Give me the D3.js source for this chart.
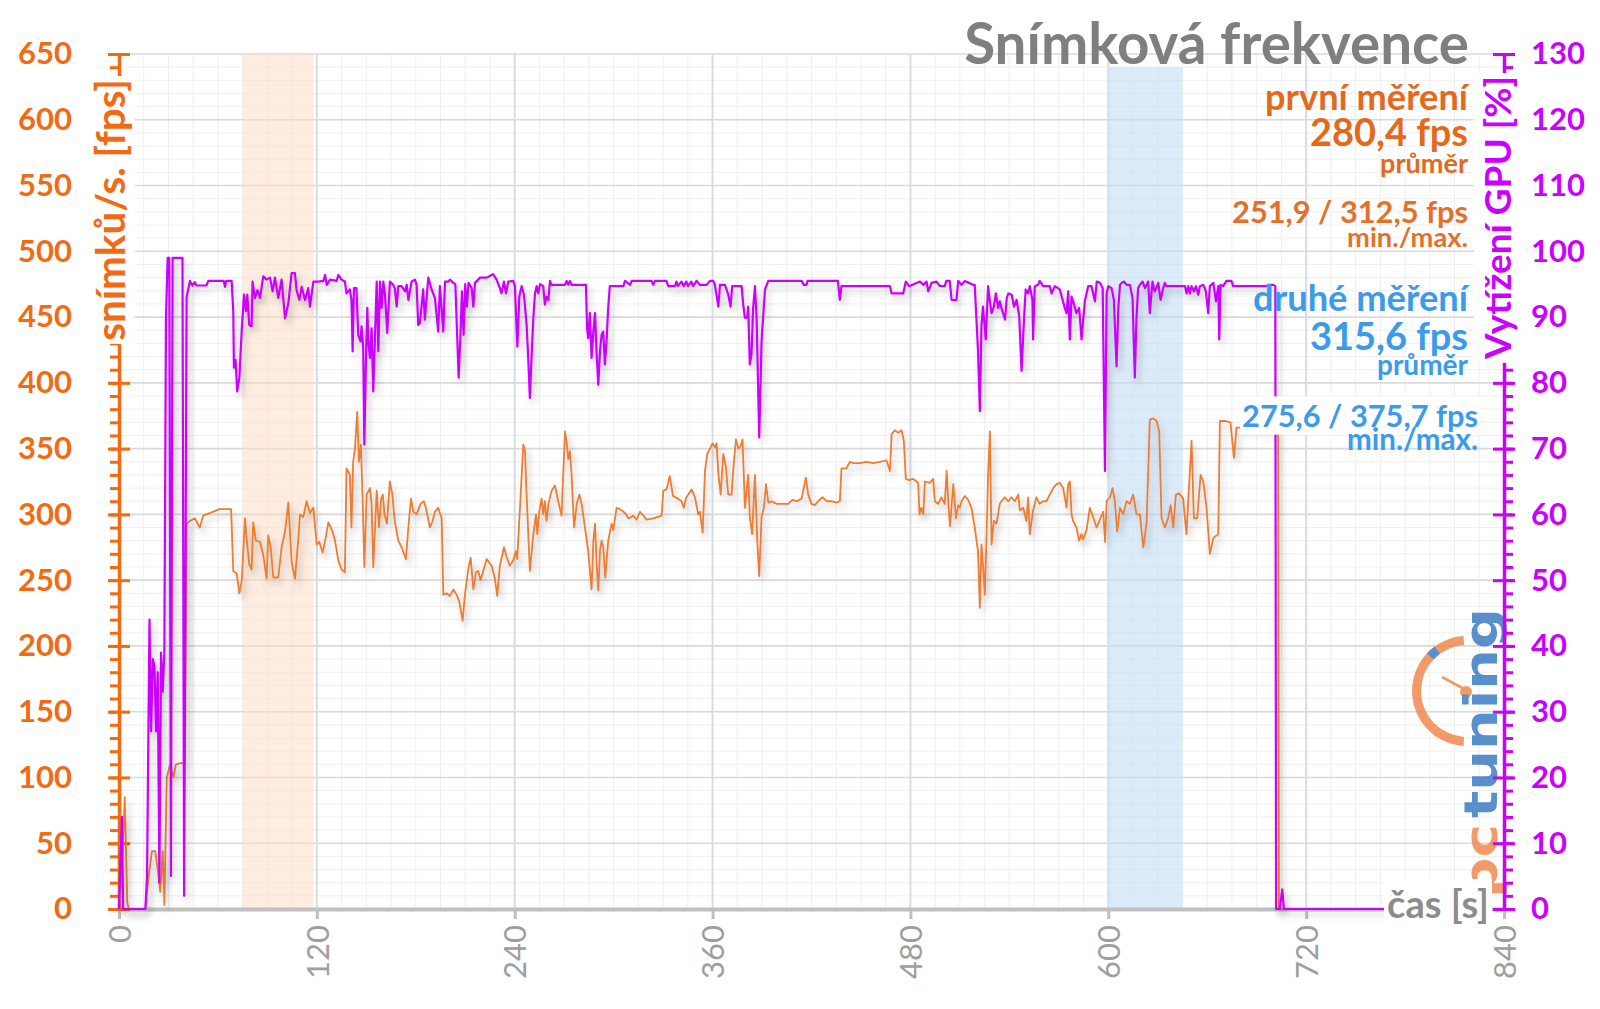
<!DOCTYPE html>
<html><head><meta charset="utf-8">
<script src="https://cdn.jsdelivr.net/npm/d3@7"></script>
<style>html,body{margin:0;padding:0;background:#fff;} svg{display:block;font-family:Lato,'Open Sans',sans-serif;}</style>
</head><body><svg id="c" width="1600" height="1009"></svg>
<script>
// ---------------- DATA ----------------
const xTicks = [0, 120, 240, 360, 480, 600, 720, 840];
const fpsTicks = [0, 50, 100, 150, 200, 250, 300, 350, 400, 450, 500, 550, 600, 650];
const gpuTicks = [0, 10, 20, 30, 40, 50, 60, 70, 80, 90, 100, 110, 120, 130];
const bandFirst = [75, 118];   // seconds, first measurement window
const bandSecond = [600, 645]; // seconds, second measurement window
const bandSecondTop = 640;

const titleText = "Snímková frekvence";
const firstLabels = ["první měření", "280,4 fps", "průměr", "251,9 / 312,5 fps", "min./max."];
const secondLabels = ["druhé měření", "315,6 fps", "průměr", "275,6 / 375,7 fps", "min./max."];

// frame rate [s, fps]
const fpsSeries = [[0,0],[1.5,20],[3.5,85],[5,5],[6,0],[16,0],[18,25],[20,44],[22,44],[23.5,30],[25,13],[26.5,44],[27.5,3],[29,100],[31,110],[33,100],[34.5,110],[38,111],[40,110],[41,293],[43,295],[46,297],[49,290],[51,299],[55,301],[61,304],[68,304],[69.3,257],[71.4,255],[73,240],[74.5,250],[76.4,297],[77.4,282],[79,262],[80.4,258],[81.4,294],[83,280],[85.5,279],[87.5,269],[89.5,251],[90.5,284],[92,275],[93.6,252],[96.6,252],[98.6,275],[100.7,287],[102.7,309],[104.7,264],[106.7,251],[108.8,282],[109.8,300],[111.8,298],[113.8,310],[115.8,301],[117.9,305],[119.9,277],[121.5,279],[123.5,271],[125,280],[127,294],[129.5,287],[131,280],[133,265],[135,258],[137,256],[138,335],[140,330],[141,290],[142,340],[143.1,350],[144.5,378],[145.5,340],[146.7,353],[147.8,310],[148.8,260],[150.2,315],[152.2,320],[153.2,308],[154.2,260],[155.3,290],[156.3,318],[157.7,290],[159,312],[160,315],[161,300],[162.5,293],[164.3,325],[165.8,315],[167.2,295],[169.4,280],[171.4,275],[174,266],[175.5,290],[177.1,312],[178.5,302],[180.5,300],[182.9,308],[184.9,310],[186.1,305],[188.6,290],[190.2,295],[191.6,302],[193.6,305],[195.7,297],[196.7,239],[198.7,240],[200.7,238],[202.8,243],[204.7,239],[206.3,234],[208.4,219],[209.8,239],[211.9,259],[213.3,267],[214.9,243],[216.5,256],[217.9,257],[219.3,250],[220.9,257],[223,266],[226,261],[228,251],[229.4,238],[231,261],[233.5,275],[235,268],[237,261],[239.1,265],[240.7,272],[241.5,266],[243.2,305],[245.2,353],[246.2,349],[247.2,315],[249.2,257],[251.3,285],[252.9,300],[253.7,285],[254.9,302],[256.3,312],[257.3,300],[258.3,310],[259.3,295],[260.4,308],[262.4,318],[264.4,322],[266.4,310],[268.4,299],[270.5,363],[271.5,355],[272.5,342],[273.5,348],[274.5,330],[276,290],[277.6,308],[279.2,315],[280.6,308],[282.6,290],[284.6,272],[286.6,243],[287.7,280],[288.7,293],[289.7,262],[290.7,242],[291.7,272],[292.7,280],[293.7,275],[294.9,252],[296.7,280],[298.8,293],[299.8,288],[301.8,305],[303.8,304],[306.9,301],[308.9,297],[311.9,299],[313.9,296],[316,302],[318,299],[320,296],[324,297],[329.1,299],[330.1,318],[332.1,319],[334,329],[336,314],[339,312],[341.1,310],[342.5,305],[344.1,313],[347.3,319],[349.3,313],[351.3,300],[352.3,302],[354,286],[355.4,333],[356.8,346],[358.4,350],[360,354],[361.4,351],[362.4,354],[363.5,331],[364.9,315],[366.5,346],[368.1,336],[369.5,315],[371.5,315],[372.6,335],[374.2,357],[375.6,350],[377,352],[378.2,357],[379.6,305],[381.6,330],[382.6,298],[384,285],[385.7,330],[387.1,280],[388.3,253],[389.7,298],[391.1,305],[392.4,323],[393.8,309],[395.8,310],[398.9,308],[402.9,308],[405.9,308],[408.5,311],[411,310],[414,312],[416.6,328],[418,315],[420,308],[422,307],[424,310],[426.7,313],[429.1,310],[432.1,310],[435.2,309],[437.2,310],[438.2,335],[441.2,335],[443.3,340],[445.3,339],[449.3,339],[453.4,340],[457.4,339],[461.5,340],[465.5,341],[467.6,333],[468.6,361],[470.6,364],[472.6,362],[474.6,364],[476,356],[477.2,327],[479.2,326],[481.6,327],[484.7,324],[485.5,300],[486.5,305],[487.8,300],[488.8,325],[491.8,324],[493.8,327],[494.8,310],[496.8,308],[498.8,313],[500.8,308],[502,333],[503,308],[504,291],[506,323],[507.6,297],[509,307],[510,305],[511,310],[513,314],[515,311],[517,305],[519,290],[521,272],[522.1,229],[523.1,277],[524.1,260],[525.1,239],[526.1,280],[527.1,330],[528.2,363],[529.2,277],[530.6,295],[532.2,293],[534.2,308],[535.2,310],[537.2,313],[539.3,310],[541.3,313],[543.3,310],[545.4,315],[546.4,303],[548.4,305],[550.3,295],[551.4,313],[552.4,285],[554.4,303],[556.4,313],[558.4,308],[560.5,310],[562.5,310],[564.5,315],[566.6,320],[568.6,323],[570.6,324],[572.6,320],[574.7,305],[575.7,323],[576.7,325],[577.7,300],[578.7,295],[580.7,290],[582.3,280],[583.7,285],[584.7,281],[586.8,288],[588.8,305],[590.8,298],[592.9,290],[594.9,296],[596.9,302],[598.1,279],[599,310],[601,313],[602.6,320],[604,310],[605.4,287],[607.1,305],[609.1,300],[611.1,310],[613.1,308],[615.1,315],[617.1,300],[619.2,300],[621.2,275],[623.2,293],[625.2,372],[627.3,373],[629.3,371],[630.9,363],[632.3,297],[634.3,290],[636.3,297],[637.8,307],[639.4,290],[641,315],[643,316],[645.4,312],[647.4,285],[648.4,308],[650.5,356],[651.9,297],[653.9,297],[656,330],[657.6,325],[659.6,305],[661.6,270],[663.7,282],[666.7,285],[667.7,371],[670.7,371],[674.1,370],[676.2,343],[677.8,366],[680,366],[703,364],[703.5,0],[706,0]];

// GPU load [s, %]
const gpuSeries = [[0,0],[1,8],[1.8,14],[2.5,0],[16,0],[17,5],[18.5,44],[19.5,27],[20.5,38],[21.5,37],[22.5,27],[23.5,36],[24.5,4],[25.5,39],[26.5,33],[27.5,39],[28.5,90],[29.5,99],[30.5,99],[31.5,5],[32.5,99],[38.5,99],[39.5,2],[41,93],[43,95.5],[44.5,94.8],[46,95.3],[47,94.8],[53,94.8],[54.2,95.5],[63.5,95.5],[64.3,94.6],[65,95.5],[68.3,95.5],[69.3,90.9],[69.7,82.3],[70.7,83.5],[71.7,78.7],[73,80.8],[74.4,87.8],[75.8,93.4],[77,90.9],[77.8,93.4],[79,88.8],[80.4,88.6],[81,95.4],[82.5,92.9],[84,94.1],[85.5,92.9],[87.5,96.2],[89.5,95.7],[91.6,96],[93.2,93.9],[94.6,96],[96.6,92.9],[98.6,95.7],[100.7,89.8],[102.7,92.1],[104.7,96.7],[106.7,96.7],[107.7,94.1],[109.4,92.6],[110.8,94.6],[112.8,92.6],[114.8,94.4],[115.8,91.6],[117.9,95.4],[120.9,95.4],[124,95.5],[125,96.4],[126,94.9],[128,95.7],[132,95.5],[133,96.4],[135,95.7],[137,95.4],[138,93.6],[140,94.2],[141,92.6],[141.7,84.8],[142.5,94.4],[144,94.4],[145.1,87.3],[146.5,86.3],[147.1,88.6],[148.1,85.3],[148.8,70.6],[149.8,83.8],[150.6,91.4],[151.2,86.3],[152.2,83.8],[153.2,88.3],[154.2,78.7],[155.3,87.3],[156.3,95.4],[157.3,84.8],[158.3,95.4],[159.3,91.4],[160.3,95.4],[161.3,93.4],[162.7,87.6],[164.3,95.4],[166.3,94.9],[167.3,94.4],[168.4,91.6],[169.4,94.7],[171.4,94.7],[173.5,93.9],[174.5,94.9],[175.5,92.6],[177.5,95.4],[179.5,95.7],[180.5,94.9],[181.5,88.8],[182.5,89.1],[184.5,94.2],[185.5,89.6],[187.6,96],[189.6,94.2],[191.6,92.9],[193.6,87.8],[194.6,94.7],[196.7,87.8],[197.7,95.4],[199.7,95.4],[200.7,95.7],[202.7,95.2],[204,95],[206,80.8],[207,86.6],[208,93.9],[209,87.3],[210,95],[211,91.6],[212,95.2],[213.9,94.4],[214.9,91.6],[215.9,95.2],[219,96],[223,96],[225.9,96.4],[227,96.5],[229,95.7],[231,94.4],[232,93.6],[233.5,95.4],[234.7,93.6],[236.1,95.4],[239.1,95.5],[240.1,94.7],[241.6,85.5],[242.8,93.1],[244.2,94.7],[245.6,93.4],[247.2,88.9],[248.2,83.8],[249.2,77.7],[250.2,83.8],[251.3,89.9],[252.3,93.6],[253.3,94.7],[254.3,93.6],[255.3,95],[257.3,94.7],[258.3,91.9],[259.3,93.1],[260.4,92.6],[261.4,95.5],[262.4,94.9],[270.5,94.9],[271.5,95.5],[272.5,94.9],[273.5,95.5],[274.5,94.9],[283.2,94.9],[283.9,88.3],[284.6,86.8],[285.6,90.6],[286.6,83.8],[287.7,87.8],[288.7,90.6],[289.7,84.3],[290.7,79.7],[291.7,84.8],[292.7,87.3],[293.7,87.8],[294.7,82.8],[295.7,86.3],[296.7,91.4],[297.7,94.7],[305.9,94.7],[306.9,95.5],[310,94.9],[310.9,95.5],[323,95.5],[324,94.9],[325,95.5],[332,95.5],[333.1,94.7],[337.1,94.7],[338.1,95.4],[339,94.7],[341.1,95.4],[342.5,94.7],[344.1,95.4],[345.1,94.7],[347.1,95.4],[348.1,94.7],[350.3,95.5],[352.3,94.9],[356.4,94.9],[358.4,95.5],[360.4,95.5],[361.4,94.9],[363.5,91.6],[364.5,94.9],[367.5,94.9],[369.5,93.4],[370.9,91.6],[371.9,94.7],[377.6,94.7],[378.6,91.9],[379.6,89.9],[381,89.9],[381.6,91.6],[382.6,82.8],[383.6,84.3],[384.6,91.4],[385.7,94.7],[386.7,89.9],[388.3,71.7],[389.7,86.3],[391.8,94.2],[393.8,95.5],[414,95.5],[415.4,94.9],[417,94.9],[417.6,95.5],[436,95.5],[437.2,92.6],[438.2,94.7],[467.6,94.7],[468.6,93.6],[475.6,93.6],[477.2,95.4],[479.2,94.7],[485.8,95.4],[487.8,94.9],[489.8,95.4],[490.8,93.9],[492.8,95.2],[495.8,95.4],[497.8,94.7],[500.8,94.7],[501.8,95.5],[503.8,95.5],[505,92.6],[507.9,92.6],[509,95.5],[511,94.9],[513,95.5],[518,94.9],[519,94.9],[521,84.8],[522.1,75.7],[523.1,88.8],[524,91.6],[525.7,86.6],[527.1,94.7],[528.2,92.4],[529.2,90.6],[530.6,91.6],[531.8,93.6],[533.2,91.4],[534.2,92.4],[535.2,91.4],[537.4,89.6],[538.4,92.9],[539.4,93.6],[541.4,93.4],[542.8,91.6],[544.4,92.6],[546,90.1],[547.4,81.8],[548.8,89.3],[549.9,94.2],[551.3,93.6],[552.4,94.7],[554,92.6],[554.4,86.6],[555.4,94.7],[557.4,94.9],[558.4,95.5],[560.5,94.7],[564.5,94.7],[565.6,93.6],[567.6,94.7],[570.6,94.2],[573.6,91.4],[574.7,90.6],[575.7,93.9],[576.7,86.6],[577.7,93.1],[578.7,92.4],[580.7,90.6],[582.3,91.4],[583.8,86.6],[584.8,89.6],[585.8,92.4],[587.8,94.7],[589.8,94.7],[591.9,92.4],[593,95.4],[595,95.2],[596.6,94.4],[598,66.6],[599,93.6],[600,94.7],[602,94.4],[603.4,92.6],[605,82.5],[606.1,91.4],[607.1,94.9],[608.1,95.2],[609.5,95.4],[611.1,94.9],[613.1,94.9],[614.7,92.9],[616.1,80.8],[617.1,89.9],[618.1,94.4],[619.2,94.9],[620.8,95.4],[622.2,94.4],[624.2,95.4],[625.2,90.6],[626.8,95.4],[628.2,93.9],[630.3,95.2],[631.7,92.6],[633.3,94.4],[634.3,95.2],[635.3,94.7],[646.5,94.7],[647.5,93.6],[648.5,94.7],[649.5,93.6],[650.5,94.7],[652,93.9],[653.2,94.7],[654.6,93.4],[655.6,94.7],[657.6,94.9],[659.2,93.9],[660.6,90.6],[661.6,94.7],[663.7,95.2],[665.3,92.4],[666.7,94.7],[667.3,86.6],[668.1,94.9],[669.7,94.7],[671.7,95.5],[674.7,95.5],[675.7,94.7],[695.9,94.7],[696.9,94.9],[700,94.9],[701.3,94.7],[701.8,0],[704,0],[705.5,3],[706.5,0],[770,0]];

// ---------------- CHART ----------------
const C_OR_AXIS = "#F26B12", C_OR_LINE = "#ED7D31", C_OR_TXT = "#E5691B";
const C_PU = "#CC00FF", C_BLUE = "#3B9BEA", C_GRAY = "#7F7F7F";
const svg = d3.select('#c');
const X0 = 119, X1 = 1504, YB = 909, YT = 54;
const x = d3.scaleLinear().domain([0, 840]).range([X0, X1]);
const yF = d3.scaleLinear().domain([0, 650]).range([YB, YT]);
const yG = d3.scaleLinear().domain([0, 130]).range([YB, YT]);

const defs = svg.append('defs');
defs.append('filter').attr('id', 'sh').attr('x', '-2%').attr('y', '-5%').attr('width', '104%').attr('height', '115%')
  .append('feDropShadow').attr('dx', 3).attr('dy', 5).attr('stdDeviation', 3.5)
  .attr('flood-color', '#000').attr('flood-opacity', 0.24);

// grid
const grid = svg.append('g');
const minorY = d3.range(0, 651, 10).filter(v => v % 50 !== 0);
const minorX = d3.range(0, 841, 15).filter(v => v % 120 !== 0);
grid.selectAll('.mh').data(minorY).join('line')
  .attr('x1', X0).attr('x2', X1).attr('y1', d => yF(d)).attr('y2', d => yF(d))
  .attr('stroke', '#efefef').attr('stroke-width', 1);
grid.selectAll('.mv').data(minorX).join('line')
  .attr('y1', YT).attr('y2', YB).attr('x1', d => x(d)).attr('x2', d => x(d))
  .attr('stroke', '#efefef').attr('stroke-width', 1);
grid.selectAll('.Mh').data(fpsTicks.filter(v => v > 0)).join('line')
  .attr('x1', X0).attr('x2', X1).attr('y1', d => yF(d)).attr('y2', d => yF(d))
  .attr('stroke', '#dadada').attr('stroke-width', 1.6);
grid.selectAll('.Mv').data(xTicks.filter(v => v > 0 && v < 840)).join('line')
  .attr('y1', YT).attr('y2', YB).attr('x1', d => x(d)).attr('x2', d => x(d))
  .attr('stroke', '#d8dde4').attr('stroke-width', 2);

// bands
svg.append('rect').attr('x', x(bandFirst[0])).attr('width', x(bandFirst[1]) - x(bandFirst[0]))
  .attr('y', yF(650)).attr('height', yF(0) - yF(650)).attr('fill', '#FBDCC4').attr('opacity', 0.55);
svg.append('rect').attr('x', x(bandSecond[0])).attr('width', x(bandSecond[1]) - x(bandSecond[0]))
  .attr('y', yF(bandSecondTop)).attr('height', yF(0) - yF(bandSecondTop)).attr('fill', '#C4DDF7').attr('opacity', 0.6);

// logo (watermark)
const logo = svg.append('g').attr('opacity', 0.85);
logo.append('path').attr('transform', 'translate(1467,691)')
  .attr('d', d3.arc().innerRadius(46).outerRadius(55).startAngle(Math.PI * 1.02).endAngle(Math.PI * 1.98)())
  .attr('fill', '#F08A50');
logo.append('path').attr('transform', 'translate(1467,691)')
  .attr('d', d3.arc().innerRadius(46).outerRadius(55).startAngle(Math.PI * 1.74).endAngle(Math.PI * 1.80)())
  .attr('fill', '#3C7DC4');
logo.append('line').attr('x1', 1442).attr('y1', 677).attr('x2', 1466).attr('y2', 690)
  .attr('stroke', '#F08A50').attr('stroke-width', 3);
logo.append('circle').attr('cx', 1466).attr('cy', 692).attr('r', 6).attr('fill', '#F08A50');
logo.append('text').attr('transform', 'translate(1497,818) rotate(-90)')
  .attr('font-family', 'DejaVu Sans').attr('font-weight', 'bold').attr('font-size', 46)
  .attr('fill', '#3C7DC4').attr('textLength', 210).attr('lengthAdjust', 'spacingAndGlyphs').text('tuning');
logo.append('text').attr('transform', 'translate(1497,898) rotate(-90)')
  .attr('font-family', 'DejaVu Sans').attr('font-weight', 'bold').attr('font-size', 46)
  .attr('fill', '#F08A50').attr('textLength', 74).attr('lengthAdjust', 'spacingAndGlyphs').text('pc');

// x axis
const gx = svg.append('g').attr('transform', `translate(0,${YB})`)
  .call(d3.axisBottom(x).tickValues(xTicks).tickSize(10).tickSizeOuter(0).tickFormat(d3.format('d')));
gx.select('.domain').attr('stroke', '#c0c0c0').attr('stroke-width', 4);
gx.selectAll('.tick line').attr('stroke', '#c0c0c0').attr('stroke-width', 3);
gx.selectAll('.tick text').attr('transform', 'rotate(-90)').attr('text-anchor', 'end')
  .attr('x', -16).attr('y', 0).attr('dy', '0.36em')
  .attr('font-family', 'Lato').attr('font-size', 31).attr('fill', '#9e9e9e');

// left axis
const gl = svg.append('g').attr('transform', `translate(${X0},0)`);
gl.call(d3.axisLeft(yF).tickValues(d3.range(0, 651, 10)).tickSize(9).tickSizeOuter(0).tickFormat(''));
gl.select('.domain').attr('stroke', C_OR_AXIS).attr('stroke-width', 3.5);
gl.selectAll('.tick line').attr('stroke', C_OR_AXIS).attr('stroke-width', 3);
const glM = svg.append('g').attr('transform', `translate(${X0},0)`)
  .call(d3.axisLeft(yF).tickValues(fpsTicks).tickSize(11).tickSizeOuter(0).tickPadding(36));
glM.select('.domain').remove();
glM.selectAll('.tick line').attr('x1', 11).attr('stroke', C_OR_AXIS).attr('stroke-width', 3);
glM.selectAll('.tick text').attr('font-family', 'Lato').attr('font-weight', 'bold')
  .attr('font-size', 31).attr('fill', C_OR_AXIS);

// right axis
const gr = svg.append('g').attr('transform', `translate(${X1},0)`);
gr.call(d3.axisRight(yG).tickValues(d3.range(0, 131, 2)).tickSize(9).tickSizeOuter(0).tickFormat(''));
gr.select('.domain').attr('stroke', C_PU).attr('stroke-width', 3.5);
gr.selectAll('.tick line').attr('stroke', C_PU).attr('stroke-width', 3);
const grM = svg.append('g').attr('transform', `translate(${X1},0)`)
  .call(d3.axisRight(yG).tickValues(gpuTicks).tickSize(11).tickSizeOuter(0).tickPadding(16));
grM.select('.domain').remove();
grM.selectAll('.tick line').attr('x1', -11).attr('stroke', C_PU).attr('stroke-width', 3);
grM.selectAll('.tick text').attr('font-family', 'Lato').attr('font-weight', 'bold')
  .attr('font-size', 31).attr('fill', C_PU);

// series
const lineF = d3.line().x(d => x(d[0])).y(d => yF(d[1]));
const lineG = d3.line().x(d => x(d[0])).y(d => yG(d[1]));
svg.append('path').datum(fpsSeries).attr('d', lineF).attr('fill', 'none')
  .attr('stroke', C_OR_LINE).attr('stroke-width', 1.8).attr('stroke-linejoin', 'round').attr('filter', 'url(#sh)');
svg.append('path').datum(gpuSeries).attr('d', lineG).attr('fill', 'none')
  .attr('stroke', C_PU).attr('stroke-width', 2.2).attr('stroke-linejoin', 'round').attr('filter', 'url(#sh)');

// helpers
function fit(sel, target) {
  const w = sel.node().getComputedTextLength();
  const fs = parseFloat(sel.attr('font-size'));
  sel.attr('font-size', fs * target / w);
  return sel;
}
function bg(g, sel, pad) {
  const b = sel.node().getBBox();
  g.insert('rect', 'text').attr('x', b.x - pad).attr('y', b.y - pad * 0.3)
    .attr('width', b.width + 2 * pad).attr('height', b.height + pad * 0.6).attr('fill', '#fff');
}
function label(txt, xr, yb, width, color, g) {
  const t = (g || svg).append('text').attr('x', xr).attr('y', yb).attr('text-anchor', 'end')
    .attr('font-family', 'Lato').attr('font-weight', 'bold').attr('font-size', 30).attr('fill', color).text(txt);
  return fit(t, width);
}

// axis titles with white backgrounds
const lt = svg.append('g').attr('transform', 'translate(125,79) rotate(-90)');
const ltT = lt.append('text').attr('text-anchor', 'end').attr('font-family', 'Lato').attr('font-weight', 'bold')
  .attr('font-size', 33).attr('fill', C_OR_AXIS).text('snímků/s. [fps]');
fit(ltT, 262); bg(lt, ltT, 3);
const rt = svg.append('g').attr('transform', 'translate(1511,76) rotate(-90)');
const rtT = rt.append('text').attr('text-anchor', 'end').attr('font-family', 'Lato').attr('font-weight', 'bold')
  .attr('font-size', 33).attr('fill', C_PU).text('Vytížení GPU [%]');
fit(rtT, 283); bg(rt, rtT, 3);

// x axis title
const xt = svg.append('g');
const xtT = xt.append('text').attr('x', 1489).attr('y', 918).attr('text-anchor', 'end')
  .attr('font-family', 'Lato').attr('font-weight', 'bold').attr('font-size', 32).attr('fill', '#8c8c8c').text('čas [s]');
fit(xtT, 102); bg(xt, xtT, 3);

// title
label(titleText, 1469, 64, 505, C_GRAY);

// first measurement
label(firstLabels[0], 1468, 110, 203, C_OR_TXT);
label(firstLabels[1], 1468, 146, 158, C_OR_TXT);
label(firstLabels[2], 1468, 173, 88, C_OR_TXT);
label(firstLabels[3], 1468, 223, 236, "#E3712A");
label(firstLabels[4], 1468, 247, 121, "#E3712A");

// second measurement
label(secondLabels[0], 1468, 311, 215, C_BLUE);
label(secondLabels[1], 1468, 350, 158, C_BLUE);
label(secondLabels[2], 1468, 375, 91, C_BLUE);
const s4 = svg.append('g');
const s4t = label(secondLabels[3], 1478, 427, 236, C_BLUE, s4);
bg(s4, s4t, 2);
label(secondLabels[4], 1478, 450, 131, C_BLUE);
</script></body></html>
